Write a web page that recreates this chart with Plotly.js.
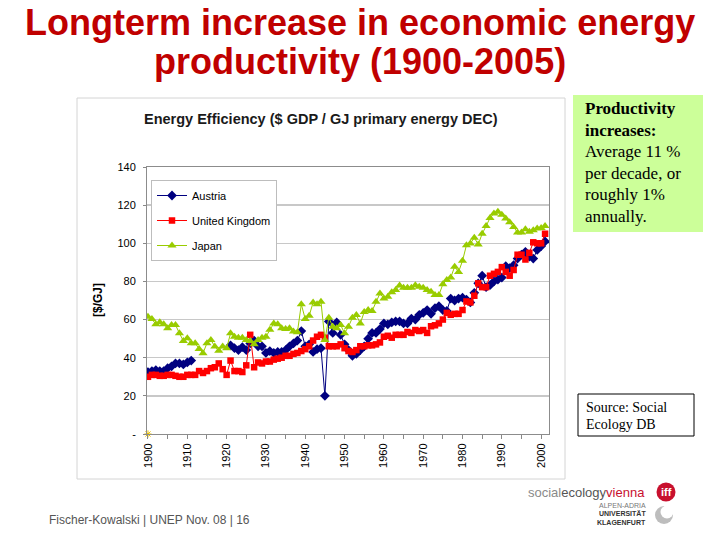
<!DOCTYPE html>
<html>
<head>
<meta charset="utf-8">
<script src="https://cdn.plot.ly/plotly-3.0.1.min.js"></script>
<style>
  html, body { margin: 0; padding: 0; background: #ffffff; }
  #chart { width: 720px; height: 540px; }
</style>
</head>
<body>
<div id="chart"></div>
<script>
// Energy efficiency, $ GDP per GJ primary energy (DEC), one value per year from 1900
const firstYear = 1900;

const austria = [
  32.5, 33, 33.5, 33, 33, 34.5, 35.5, 37, 37, 36.5,          // 1900s
  37.5, 38.5, null, null, null, null, null, null, null, null, // 1910s
  null, 46.5, 45, 44, 45.5, 44, 47.5, 49, 46, 46,            // 1920s
  42.5, 43.5, 42.5, 43, 43, 44, 46, 47.5, 49, 54,            // 1930s
  46, 47, 43, 44.5, 45, 20, 59, 53, 58.5, 52,                // 1940s
  47, 44, 41, 42, 44, 46, 50, 53, 53, 55,                    // 1950s
  58, 57.5, 58.5, 59, 59, 58, 58, 60.5, 60, 62.5,            // 1960s
  63.5, 65, 63, 66, 67, 65, 64.5, 71, 70, 71,                // 1970s
  71.5, 70.5, 69, 74, 79, 83, 77, 78, 80, 81,                // 1980s
  82, 88, 87, 88.5, 92, 94, 95.5, 93, 92, 96.5,              // 1990s
  98.5, 101                                                  // 2000s
];

const unitedKingdom = [
  30, 31, 31, 30.5, 30.5, 31, 31, 30.5, 30, 30,
  31, 31, 31, 33, 32, 33, 34.5, 35, 37, 34,
  31, 38.5, 33, 33, 32.5, 36, 52, 35, 37.5, 37,
  38, 38, 39, 39.5, 40, 41, 41, 42, 42.5, 43.5,
  44.5, 46, 49, 51, 52, 50.5, 46, 46, 46, 47,
  45, 43.5, 43, 44, 46, 46, 46.5, 46.5, 47, 48,
  51, 51.5, 50.5, 52, 52, 52, 53.5, 53, 54.5, 54,
  54.5, 53, 56.5, 57, 58, 60, 63.5, 62.5, 63, 63,
  65, 69.5, 69, 72.5, 79, 77, 77, 83, 84, 85,
  87.5, 85, 83, 86, 94, 94, 91.5, 95, 100.5, 100,
  100, 105
];

const japan = [
  61.5, 60.3, 57.5, 58.6, 57.5, 55.4, 57.2, 57.2, 52.8, 48.8,
  50.2, 47.6, 47.6, 44.6, 42.4, 47.6, 49.3, 45.9, 43.6, 45.9,
  45, 52.8, 51, 50.5, 50.5, 49.3, 48.8, 47, 49.3, 50.5,
  51, 54.6, 58, 57.5, 55.4, 55, 55.4, 53.7, 53.3, 68,
  60.3, 62, 69, 68, 69.4, 49.3, 61, 56.3, 55.4, 57.2,
  52.8, 56.3, 61, 62.4, 58, 64, 65, 64.5, 69.4, 73.7,
  71.1, 72, 74.3, 75.5, 77.8, 76.7, 76.7, 76.7, 78, 77.2,
  76.7, 75.5, 74.6, 72.9, 72.9, 78.5, 80.7, 82, 87.7, 85,
  90.8, 99, 99.9, 102.9, 99.4, 105, 109, 113.3, 115.6, 116.5,
  115, 113, 111, 108.6, 105.6, 105.6, 107.4, 106, 106.9, 107.7,
  108, 109
];

// stray marker sitting at the origin of the plot
const originMarkYear = [1900];
const originMarkValue = [0];

const years = austria.map((_, i) => firstYear + i);
const xTickYears = [1900, 1910, 1920, 1930, 1940, 1950, 1960, 1970, 1980, 1990, 2000];
const yTickValues = [0, 20, 40, 60, 80, 100, 120, 140];
const yTickLabels = ['-', '20', '40', '60', '80', '100', '120', '140'];

const FIG_W = 720, FIG_H = 540;
const M = { l: 147, r: 171, t: 167, b: 106 };
const PW = FIG_W - M.l - M.r;
const PH = FIG_H - M.t - M.b;
const fx = px => (px - M.l) / PW;
const fy = py => (FIG_H - M.b - py) / PH;

const sans = 'Liberation Sans, Arial, sans-serif';
const serif = 'Liberation Serif, Times New Roman, serif';

function series(name, values, color, symbol, size, group) {
  return {
    type: 'scatter', mode: 'lines+markers', name: name, x: years, y: values,
    connectgaps: false, legendgroup: group,
    line: { color: color, width: 1 },
    marker: { color: color, symbol: symbol, size: size }
  };
}

const traces = [
  series('Austria', austria, '#000080', 'diamond', 7.5, 'a'),
  series('United Kingdom', unitedKingdom, '#ff0000', 'square', 6.5, 'b'),
  series('Japan', japan, '#99cc00', 'triangle-up', 8, 'c'),
  {
    type: 'scatter', mode: 'markers', x: originMarkYear, y: originMarkValue,
    showlegend: false, cliponaxis: false, hoverinfo: 'skip',
    marker: { color: '#e8c000', symbol: 'asterisk-open', size: 6, line: { color: '#e8c000', width: 1 } }
  }
];

function note(text, x, y, opts) {
  return Object.assign({
    text: text, xref: 'paper', yref: 'paper', x: fx(x), y: fy(y),
    showarrow: false, xanchor: 'left', yanchor: 'middle',
    font: { family: sans, size: 12, color: '#000' }
  }, opts || {});
}

const boxLines = [
  ['<b>Productivity</b>', 108.5],
  ['<b>increases:</b>', 130],
  ['Average 11 %', 151.5],
  ['per decade, or', 173],
  ['roughly 1%', 194.5],
  ['annually.', 216]
];

const annotations = [
  note('<b>Longterm increase in economic energy</b>', 360, 22,
       { xanchor: 'center', font: { family: sans, size: 36, color: '#c00000' } }),
  note('<b>productivity (1900-2005)</b>', 360, 62,
       { xanchor: 'center', font: { family: sans, size: 36, color: '#c00000' } }),
  note('<b>Energy Efficiency ($ GDP / GJ primary energy DEC)</b>', 321, 119,
       { xanchor: 'center', font: { family: sans, size: 14.5, color: '#1a1a1a' } }),
  note('<b>[$/GJ]</b>', 98, 300,
       { xanchor: 'center', textangle: -90, font: { family: sans, size: 12, color: '#000' } }),
  note('Source: Social', 584, 407, { font: { family: serif, size: 14, color: '#000' } }),
  note('Ecology DB', 584, 424, { font: { family: serif, size: 14, color: '#000' } }),
  note('Fischer-Kowalski | UNEP Nov. 08 | 16', 47, 520,
       { font: { family: sans, size: 12, color: '#555' } }),
  note('social<span style="color:#555">ecology</span><span style="color:#c8102e">vienna</span>', 647, 492,
       { xanchor: 'right', font: { family: sans, size: 13, color: '#8a8a8a' } }),
  note('<b>iff</b>', 666, 492,
       { xanchor: 'center', font: { family: sans, size: 11, color: '#ffffff' } }),
  note('ALPEN-ADRIA', 648, 505, { xanchor: 'right', font: { family: sans, size: 7, color: '#777' } }),
  note('<b>UNIVERSITÄT</b>', 648, 513, { xanchor: 'right', font: { family: sans, size: 7, color: '#333' } }),
  note('<b>KLAGENFURT</b>', 648, 522, { xanchor: 'right', font: { family: sans, size: 7, color: '#333' } })
];
boxLines.forEach(([t, y]) => {
  annotations.push(note(t, 583, y, { font: { family: serif, size: 17, color: '#000' } }));
});

function rect(x0, y0, x1, y1, fill, lineColor, lineWidth, layer) {
  return {
    type: 'rect', xref: 'paper', yref: 'paper',
    x0: fx(x0), x1: fx(x1), y0: fy(y0), y1: fy(y1),
    fillcolor: fill, line: { color: lineColor, width: lineWidth }, layer: layer || 'below'
  };
}
function circle(cx, cy, r, fill) {
  return {
    type: 'circle', xref: 'paper', yref: 'paper',
    x0: fx(cx - r), x1: fx(cx + r), y0: fy(cy + r), y1: fy(cy - r),
    fillcolor: fill, line: { width: 0 }, layer: 'above'
  };
}

const shapes = [
  rect(77, 98, 565, 479, 'rgba(0,0,0,0)', '#d4d4d4', 1, 'below'),
  rect(573, 95, 703, 232, '#ccff99', 'rgba(0,0,0,0)', 0, 'below'),
  rect(578, 394, 694, 436, '#ffffff', '#000000', 1, 'below'),
  circle(666, 492, 9.5, '#c8102e'),
  circle(664, 515, 9, '#bdbdbd'),
  circle(667, 512, 6.5, '#ffffff')
];

const layout = {
  width: FIG_W, height: FIG_H,
  margin: M,
  paper_bgcolor: '#ffffff', plot_bgcolor: '#ffffff',
  showlegend: true,
  legend: {
    x: fx(151), y: fy(180), xanchor: 'left', yanchor: 'top',
    bgcolor: '#ffffff', bordercolor: '#bdbdbd', borderwidth: 1,
    tracegroupgap: 6, traceorder: 'grouped', itemwidth: 30,
    font: { family: sans, size: 11, color: '#000' }
  },
  xaxis: {
    type: 'linear', range: [1899.75, 2002],
    tickmode: 'array', tickvals: xTickYears, tickangle: -90,
    ticks: 'outside', ticklen: 4, tickcolor: '#888',
    minor: { tickmode: 'linear', tick0: 1900, dtick: 5, ticks: 'outside', ticklen: 4, tickcolor: '#888', showgrid: false },
    showgrid: false, zeroline: false,
    showline: true, linecolor: '#8c8c8c', linewidth: 1, mirror: true,
    tickfont: { family: sans, size: 11, color: '#000' }
  },
  yaxis: {
    range: [0, 140],
    tickmode: 'array', tickvals: yTickValues, ticktext: yTickLabels,
    ticks: 'outside', ticklen: 3, tickcolor: '#888', ticklabelstandoff: 5,
    showgrid: true, gridcolor: '#c8c8c8', gridwidth: 1.5,
    zeroline: false,
    showline: true, linecolor: '#8c8c8c', linewidth: 1, mirror: true,
    tickfont: { family: sans, size: 11, color: '#000' }
  },
  annotations: annotations,
  shapes: shapes
};

Plotly.newPlot('chart', traces, layout, { displayModeBar: false, staticPlot: true });
</script>
</body>
</html>
